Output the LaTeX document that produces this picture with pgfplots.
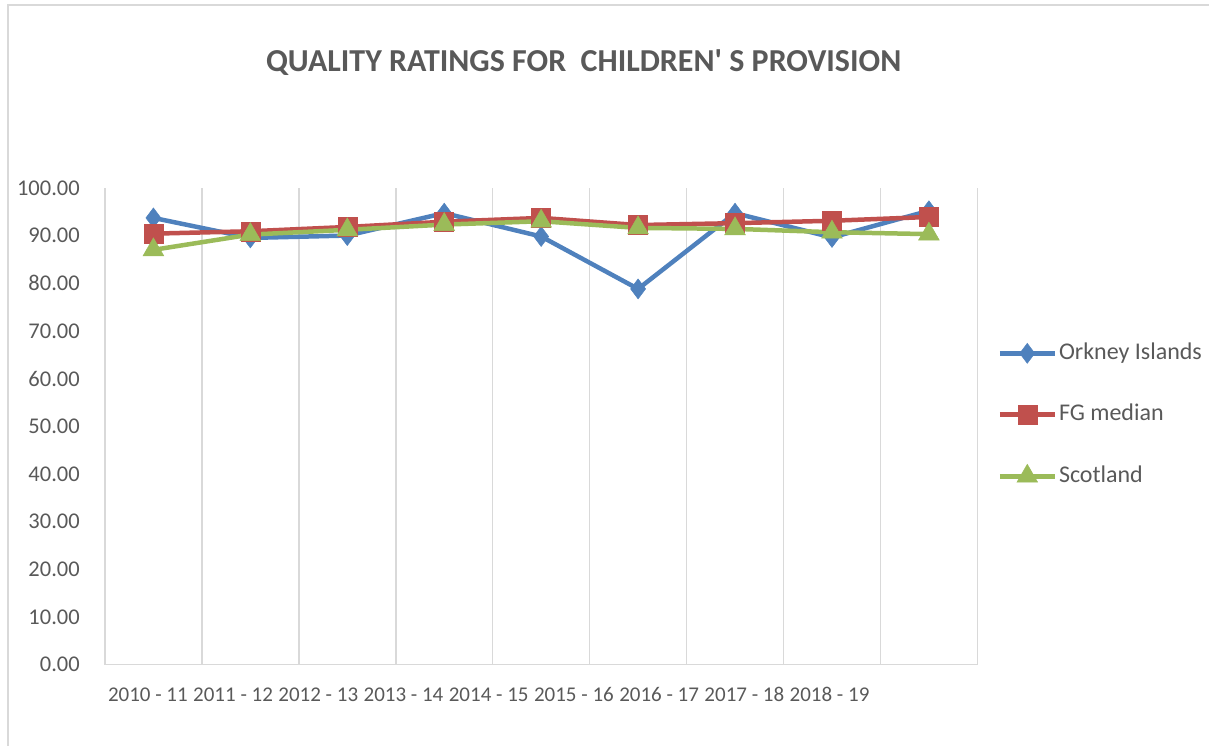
\documentclass[border=0pt]{standalone}
\usepackage{fontspec}
\setmainfont{Carlito}
\usepackage{pgfplots}
\pgfplotsset{compat=1.18}
\definecolor{cblue}{HTML}{4F81BD}
\definecolor{cred}{HTML}{C0504D}
\definecolor{cgreen}{HTML}{9BBB59}
\definecolor{ctext}{HTML}{595959}
\definecolor{cgrid}{HTML}{D9D9D9}
\begin{document}
\begin{tikzpicture}
\begin{axis}[
  scale only axis, width=873pt, height=477pt,
  xmin=-0.5, xmax=8.5, ymin=0, ymax=100,
  axis x line*=bottom, axis y line*=left,
  y axis line style={draw=none},
  x axis line style={cgrid, line width=1.5pt},
  ytick={0,10,...,100},
  xtick={-0.057,0.822,1.701,2.580,3.459,4.338,5.217,6.096,6.975},
  xticklabels={2010 - 11,2011 - 12,2012 - 13,2013 - 14,2014 - 15,2015 - 16,2016 - 17,2017 - 18,2018 - 19},
  minor xtick={-0.5,0.5,...,8.5},
  xminorgrids, minor grid style={cgrid, line width=1.5pt},
  major tick length=0pt, minor tick length=0pt,
  tick style={draw=none},
  /pgf/number format/assume math mode=true,
  yticklabel style={/pgf/number format/.cd, fixed, fixed zerofill, precision=2, /tikz/.cd, anchor=east, inner sep=0pt, xshift=-25pt, font=\fontsize{22.5}{26}\selectfont, text=ctext},
  xticklabel style={anchor=base, inner sep=0pt, yshift=-37pt, font=\fontsize{21}{25}\selectfont, text=ctext},
  legend style={at={(1.0229,0.524)}, anchor=west, draw=none, fill=none, inner sep=0pt,
    font=\fontsize{24}{28}\selectfont, text=ctext, row sep=39pt,
    nodes={inner xsep=2pt, inner ysep=0pt, text height=17pt, text depth=5pt, anchor=west}},
  legend cell align=left,
  legend image code/.code={\draw[mark repeat=2,mark phase=2,#1] plot coordinates {(0pt,0pt) (27.5pt,0pt) (55pt,0pt)};},
]
\coordinate (O) at (rel axis cs:0,0);
\addplot[cblue, line width=4.5pt, mark=diamond*, mark size=10pt, mark options={solid, fill=cblue, line width=0.5pt}]
  coordinates {(0,93.7) (1,89.5) (2,90.0) (3,94.7) (4,89.8) (5,78.8) (6,94.7) (7,89.6) (8,95.2)};
\addlegendentry{Orkney Islands}
\addplot[cred, line width=4.5pt, mark=square*, mark size=9.5pt, mark options={solid, fill=cred, line width=0.5pt}]
  coordinates {(0,90.4) (1,90.9) (2,91.8) (3,92.9) (4,93.7) (5,92.2) (6,92.6) (7,93.1) (8,93.9)};
\addlegendentry{FG median}
\addplot[cgreen, line width=4.5pt, mark=triangle*, mark size=12pt, mark options={solid, fill=cgreen, line width=0.5pt}]
  coordinates {(0,87.0) (1,90.2) (2,91.2) (3,92.3) (4,93.0) (5,91.6) (6,91.4) (7,90.7) (8,90.3)};
\addlegendentry{Scotland}
\end{axis}
\node[font=\fontsize{32}{38}\selectfont\bfseries, text=ctext] at ([shift={(479pt,602pt)}]O) {QUALITY RATINGS FOR\ \ CHILDREN\textquotesingle{} S PROVISION};
\draw[cgrid, line width=1.5pt] ([shift={(-97pt,-81pt)}]O) -- ([shift={(-97pt,660pt)}]O) -- ([shift={(1105pt,660pt)}]O);
\useasboundingbox ([shift={(-105pt,-81pt)}]O) rectangle ([shift={(1105pt,665pt)}]O);
\end{tikzpicture}
\end{document}
